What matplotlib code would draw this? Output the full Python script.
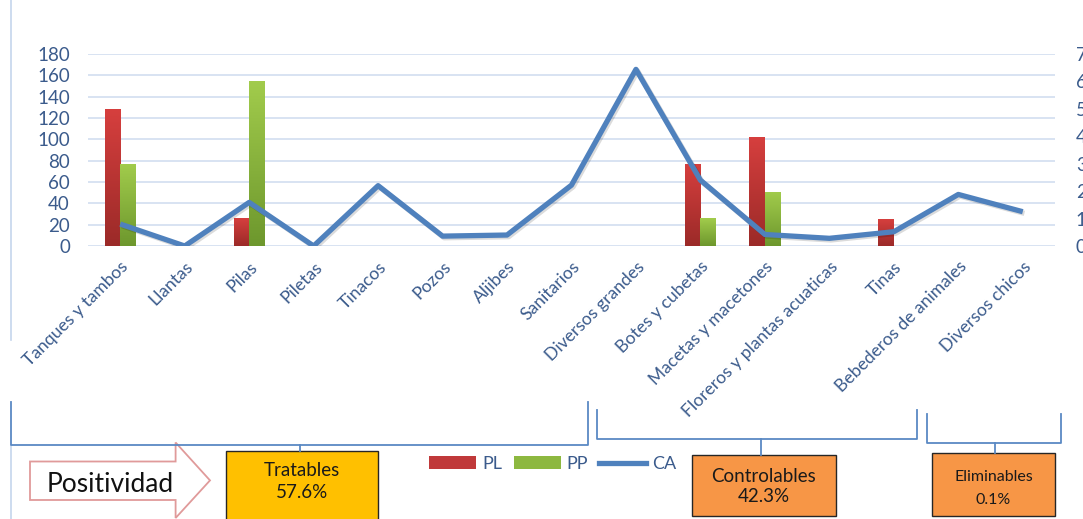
import numpy as np
import matplotlib
matplotlib.use("Agg")
import matplotlib.pyplot as plt
from matplotlib.colors import LinearSegmentedColormap
from matplotlib.patches import Rectangle, Polygon
from matplotlib.lines import Line2D
import matplotlib.patheffects as pe

plt.rcParams['font.family'] = ['Lato', 'DejaVu Sans']

categories = ["Tanques y tambos", "Llantas", "Pilas", "Piletas", "Tinacos", "Pozos",
              "Aljibes", "Sanitarios", "Diversos grandes", "Botes y cubetas",
              "Macetas y macetones", "Floreros y plantas acuaticas", "Tinas",
              "Bebederos de animales", "Diversos chicos"]
PL = [128, 0, 26, 0, 0, 0, 0, 0, 0, 77, 102, 0, 25, 0, 0]
PP = [77, 0, 155, 0, 0, 0, 0, 0, 0, 26, 51, 0, 0, 0, 0]
CA = [0.80, 0.0, 1.59, 0.0, 2.2, 0.36, 0.40, 2.22, 6.44, 2.4, 0.42, 0.28, 0.52, 1.88, 1.25]
left_ticks = list(range(0, 181, 20))
right_ticks = list(range(0, 8))
groups = [("Tratables", "57.6%"), ("Controlables", "42.3%"), ("Eliminables", "0.1%")]

W, H = 1083, 519
fig = plt.figure(figsize=(W / 100, H / 100), dpi=100)
fig.patch.set_facecolor('white')

def fx(px):
    return px / W

def fy(py):
    return 1 - py / H

ax_l, ax_r, ax_t, ax_b = 88, 1055, 54, 246
ax = fig.add_axes([fx(ax_l), fy(ax_b), fx(ax_r - ax_l), (ax_b - ax_t) / H])
ax2 = ax.twinx()

tick_color = '#3B5B8C'
x = np.arange(len(categories))
bw = 0.24
bars_pl = ax.bar(x - bw / 2, PL, bw, color='#C0393A', zorder=2, label='PL')
bars_pp = ax.bar(x + bw / 2, PP, bw, color='#8DB840', zorder=2, label='PP')


def gradient(bars, top, bottom):
    cmap = LinearSegmentedColormap.from_list('g', [bottom, top])
    grad = np.linspace(0, 1, 256).reshape(-1, 1)
    for b in bars:
        h = b.get_height()
        if h <= 0:
            continue
        x0, y0 = b.get_xy()
        w = b.get_width()
        im = ax.imshow(grad, extent=(x0, x0 + w, y0, y0 + h), origin='lower',
                       aspect='auto', cmap=cmap, zorder=2.1)
        im.set_clip_path(b)


gradient(bars_pl, '#D63F3E', '#9B2A28')
gradient(bars_pp, '#A2CC4C', '#6D972D')

ax.set_xlim(-0.5, len(categories) - 0.5)
ax.set_ylim(0, 180)
ax.set_yticks(left_ticks)
ax.grid(axis='y', color='#D5E1F1', linewidth=1.3, zorder=0)
ax.set_axisbelow(True)
for s in ax.spines.values():
    s.set_visible(False)
for s in ax2.spines.values():
    s.set_visible(False)
ax.set_xticks(x)
ax.set_xticklabels(categories, rotation=45, ha='right', va='top',
                   rotation_mode='anchor', fontsize=12.6, color=tick_color)
ax.tick_params(axis='x', length=0, pad=9)
ax.tick_params(axis='y', length=0, pad=13, labelsize=13.5, labelcolor=tick_color)

ax2.plot(x, CA, color='#4F81BD', linewidth=3.8, solid_capstyle='butt', zorder=5,
         label='CA',
         path_effects=[pe.SimpleLineShadow(offset=(1.2, -1.2), alpha=0.14, shadow_color='black'),
                       pe.Normal()])
ax2.set_ylim(0, 7)
ax2.set_yticks(right_ticks)
ax2.tick_params(axis='y', length=0, pad=15, labelsize=13.5, labelcolor=tick_color)

# overlay in pixel coordinates
ov = fig.add_axes([0, 0, 1, 1])
ov.set_xlim(0, W)
ov.set_ylim(H, 0)
ov.axis('off')
ov.patch.set_alpha(0)

bcol = '#5A89C4'
ov.plot([11, 11], [0, 340], color='#C5D5EC', lw=1.2)
ov.plot([11, 11], [445, 519], color='#C5D5EC', lw=1.2)
# brackets
ov.plot([11, 11, 588, 588], [402, 445, 445, 402], color=bcol, lw=1.3)
ov.plot([300, 300], [445, 451], color=bcol, lw=1.3)
ov.plot([597, 597, 917, 917], [410, 439, 439, 410], color=bcol, lw=1.3)
ov.plot([761, 761], [439, 455], color=bcol, lw=1.3)
ov.plot([927, 927, 1061, 1061], [414, 443, 443, 414], color=bcol, lw=1.3)
ov.plot([995, 995], [443, 453], color=bcol, lw=1.3)

# boxes
boxes = [(226, 451, 378, 525, '#FFC000', 13.5, 471, 492),
         (692, 455, 836, 516, '#F79646', 13.5, 476, 497),
         (932, 453, 1055, 516, '#F79646', 11.5, 477, 500)]
for (g, (x0, y0, x1, y1, c, fs, t1, t2)) in zip(groups, boxes):
    ov.add_patch(Rectangle((x0, y0), x1 - x0, y1 - y0, facecolor=c,
                           edgecolor='#262626', lw=1.0))
    cx = (x0 + x1) / 2
    ov.text(cx, t1, g[0], ha='center', va='center', fontsize=fs, color='#1A1A1A')
    ov.text(cx, t2, g[1], ha='center', va='center', fontsize=fs, color='#1A1A1A')

# Positividad arrow
arrow = Polygon([(30, 461.5), (175.6, 461.5), (175.6, 442.5), (210, 480.4),
                 (175.6, 518), (175.6, 500), (30, 500)], closed=True,
                facecolor='white', edgecolor='#E09A9A', lw=1.3)
ov.add_patch(arrow)
ov.text(110, 485, 'Positividad', ha='center', va='center', fontsize=19, color='#111111')

# legend
handles = [Rectangle((0, 0), 1, 1, facecolor='#C0393A'),
           Rectangle((0, 0), 1, 1, facecolor='#8DB840'),
           Line2D([0], [0], color='#4F81BD', lw=3.8)]
leg = fig.legend(handles, ['PL', 'PP', 'CA'], loc='center',
                 bbox_to_anchor=(fx(553), fy(464)), ncol=3, frameon=False,
                 fontsize=13, handlelength=2.6, handletextpad=0.35,
                 columnspacing=0.6, handleheight=0.7)
for t in leg.get_texts():
    t.set_color(tick_color)

fig.savefig('out.png', dpi=100)
